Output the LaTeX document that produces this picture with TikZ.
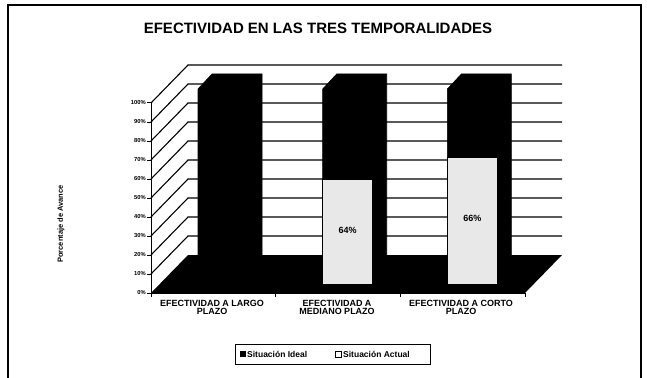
\documentclass[tikz,border=0pt]{standalone}
\usepackage{fontspec}
\setmainfont{Liberation Sans}
\begin{document}
\begin{tikzpicture}[x=1pt,y=-1pt,
  frame/.style={line width=1.2pt},
  gridline/.style={line width=1.1pt},
  axisline/.style={line width=1pt},
  ticklab/.style={font=\fontsize{5.8}{6}\selectfont\bfseries, anchor=east, inner sep=0pt},
  catlab/.style={font=\fontsize{9}{8.5}\selectfont\bfseries, align=center, anchor=north, inner sep=0pt},
  idealbar/.style={fill=black, draw=black, line width=0.6pt},
  actualbar/.style={fill=black!9, draw=black, line width=0.6pt},
  vallab/.style={font=\fontsize{9}{9}\selectfont\bfseries, inner sep=0pt},
  legtext/.style={font=\fontsize{8.5}{8.5}\selectfont\bfseries, anchor=west, inner sep=0pt},
]
\useasboundingbox (0,0) rectangle (647,377);
\fill[white] (0,0) rectangle (647,377);
\draw[frame] (8,380) -- (8,5) -- (641,5) -- (641,380);

% title
\node[font=\fontsize{15}{15}\selectfont\bfseries] (title) at (318,28) {EFECTIVIDAD EN LAS TRES TEMPORALIDADES};

% walls: gridlines
\foreach \k in {1,...,10}{
  \draw[gridline] (151,{293-19*\k}) -- (188,{255-19*\k}) -- (562,{255-19*\k});
}
% floor
\fill[black] (151,293) -- (188,255) -- (562,255) -- (525,293) -- cycle;

% axes
\draw[axisline] (151,103) -- (151,293) -- (525,293);
\foreach \k [evaluate=\k as \p using int(10*\k)] in {0,...,10}{
  \draw[axisline] (147,{293-19*\k}) -- (151,{293-19*\k});
  \node[ticklab] at (146,{293-19*\k}) {\p\%};
}
\foreach \x in {151,275.7,400.3,525}{
  \draw[axisline] (\x,293) -- (\x,297);
}

% bars (ideal series, 100%)
\foreach \i in {0,1,2}{
  \pgfmathsetmacro{\xo}{198+124.7*\i}
  \fill[idealbar] (\xo,284) -- (\xo,89) -- ({\xo+14},74) -- ({\xo+64},74) -- ({\xo+64},269) -- ({\xo+50},284) -- cycle;
}
% actual series
\fill[actualbar] (322.7,284) rectangle (372.7,179);
\fill[actualbar] (447.4,284) rectangle (497.4,157);
\node[vallab] (v2) at (347.7,230) {64\%};
\node[vallab] (v3) at (472.4,218) {66\%};

% category labels
\node[catlab] (c1) at (212,300) {EFECTIVIDAD A LARGO\\PLAZO};
\node[catlab] (c2) at (337,300) {EFECTIVIDAD A\\MEDIANO PLAZO};
\node[catlab] (c3) at (461,300) {EFECTIVIDAD A CORTO\\PLAZO};

% axis title
\node[font=\fontsize{7.5}{7.5}\selectfont\bfseries, rotate=90] (ytitle) at (61,224) {Porcentaje de Avance};

% legend
\draw[line width=1pt] (235,344) rectangle (430,364);
\fill[black] (240,351) rectangle (246,357);
\node[legtext] (l1) at (247,354) {Situación Ideal};
\draw[line width=0.8pt] (335,351) rectangle (341,357);
\node[legtext] (l2) at (343,354) {Situación Actual};
\end{tikzpicture}
\end{document}
